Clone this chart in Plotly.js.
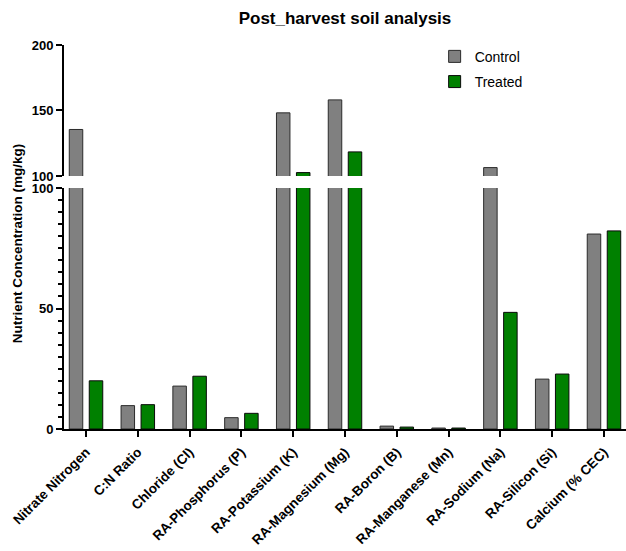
<!DOCTYPE html>
<html>
<head>
<meta charset="utf-8">
<script src="https://cdn.plot.ly/plotly-3.0.1.min.js"></script>
<style>html,body{margin:0;padding:0;background:#fff;}#chart{width:626px;height:551px;}</style>
</head>
<body>
<div id="chart"></div>
<script>
const categories = ["Nitrate Nitrogen","C:N Ratio","Chloride (Cl)","RA-Phosphorus (P)","RA-Potassium (K)","RA-Magnesium (Mg)","RA-Boron (B)","RA-Manganese (Mn)","RA-Sodium (Na)","RA-Silicon (Si)","Calcium (% CEC)"];
const control = [135.5, 9.7, 17.8, 4.7, 148.2, 158.1, 1.2, 0.4, 106.4, 20.7, 80.9];
const treated = [20.0, 10.1, 21.9, 6.5, 102.6, 118.4, 0.8, 0.4, 48.4, 22.8, 82.2];
const lowerTicks = [0, 50, 100];
const upperTicks = [100, 150, 200];
const seriesNames = ["Control", "Treated"];

const FONT = "Liberation Sans, Arial, sans-serif";
const styles = [
  {color: "#808080", line: {color: "#2b2b2b", width: 1}},
  {color: "#008000", line: {color: "#0a0a0a", width: 1}}
];
const series = [control, treated];
const traces = [];
["y", "y2"].forEach(function (ax, k) {
  series.forEach(function (vals, i) {
    traces.push({
      type: "bar",
      x: categories,
      y: vals,
      name: seriesNames[i],
      legendgroup: seriesNames[i],
      showlegend: k === 0,
      xaxis: "x",
      yaxis: ax,
      marker: styles[i],
      hoverinfo: "x+y"
    });
  });
});

const yTickFont = {family: FONT, size: 13, color: "#000", weight: "bold"};
const xTickFont = {family: FONT, size: 13.5, color: "#000", weight: "bold"};
const layout = {
  width: 626, height: 551,
  margin: {l: 64, r: 0, t: 45, b: 122, pad: 0},
  paper_bgcolor: "#fff", plot_bgcolor: "#fff",
  barmode: "group", bargap: 0.228, bargroupgap: 0.325,
  font: {family: FONT, color: "#000"},
  title: {text: "Post_harvest soil analysis", font: {family: FONT, size: 17, weight: "bold", color: "#000"},
          xref: "paper", x: 0.5, xanchor: "center", yref: "container", y: 0.968, yanchor: "middle"},
  xaxis: {
    type: "category", range: [-0.425, 10.425], anchor: "y",
    showline: true, linewidth: 2, linecolor: "#000",
    ticks: "outside", ticklen: 6, tickwidth: 2, tickcolor: "#000",
    tickangle: -45, tickfont: xTickFont, ticklabelstandoff: 2,
    showgrid: false, zeroline: false
  },
  yaxis: {
    domain: [0, 0.6276], range: [0, 100], anchor: "x",
    tickmode: "array", tickvals: lowerTicks, ticktext: lowerTicks.map(String),
    showline: true, linewidth: 2, linecolor: "#000",
    ticks: "outside", ticklen: 6, tickwidth: 2, tickcolor: "#000",
    minor: {tickmode: "linear", tick0: 0, dtick: 5, ticks: "outside", ticklen: 4, tickwidth: 2, tickcolor: "#000", showgrid: false},
    tickfont: yTickFont, showgrid: false, zeroline: false
  },
  yaxis2: {
    domain: [0.6589, 1], range: [100, 200], anchor: "x",
    tickmode: "array", tickvals: upperTicks, ticktext: upperTicks.map(String),
    showline: true, linewidth: 2, linecolor: "#000",
    ticks: "outside", ticklen: 6, tickwidth: 2, tickcolor: "#000",
    tickfont: yTickFont, showgrid: false, zeroline: false
  },
  legend: {
    x: 0.6595, y: 1.011, xanchor: "left", yanchor: "top",
    font: {family: FONT, size: 14, color: "#000"},
    traceorder: "grouped", tracegroupgap: 4,
    bgcolor: "rgba(0,0,0,0)"
  },
  annotations: [{
    text: "Nutrient Concentration (mg/kg)", textangle: -90,
    xref: "paper", yref: "paper", x: -0.0836, y: 0.484,
    xanchor: "center", yanchor: "middle", showarrow: false,
    font: {family: FONT, size: 13.5, weight: "bold", color: "#000"}
  }]
};

Plotly.newPlot("chart", traces, layout, {displayModeBar: false, staticPlot: true});
</script>
</body>
</html>
